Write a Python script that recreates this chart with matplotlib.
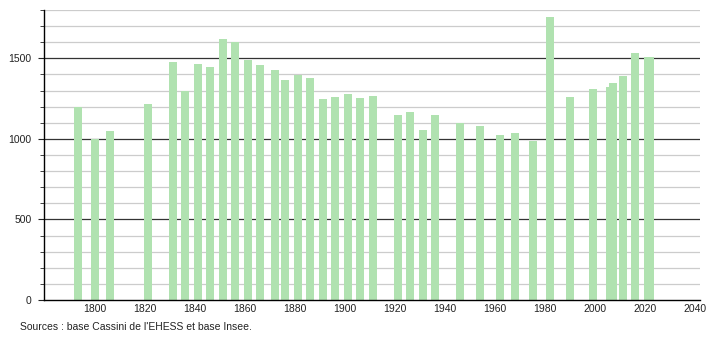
import matplotlib
matplotlib.use("Agg")
import matplotlib.pyplot as plt
from matplotlib.ticker import MultipleLocator

years = [1793, 1800, 1806, 1821, 1831, 1836, 1841, 1846, 1851, 1856, 1861, 1866,
         1872, 1876, 1881, 1886, 1891, 1896, 1901, 1906, 1911, 1921, 1926, 1931,
         1936, 1946, 1954, 1962, 1968, 1975, 1982, 1990, 1999, 2006, 2007, 2011,
         2016, 2021, 2022]
population = [1200, 1000, 1047, 1218, 1477, 1300, 1462, 1446, 1618, 1599, 1487, 1458,
              1425, 1365, 1396, 1375, 1246, 1263, 1276, 1251, 1269, 1151, 1170, 1058,
              1151, 1097, 1083, 1027, 1039, 989, 1755, 1257, 1307, 1323, 1344, 1388,
              1531, 1510, 1510]
xticks = [1800, 1820, 1840, 1860, 1880, 1900, 1920, 1940, 1960, 1980, 2000, 2020, 2040]
yticks = [0, 500, 1000, 1500]
source_text = "Sources : base Cassini de l'EHESS et base Insee."

plt.rcParams['font.family'] = ['Liberation Sans', 'DejaVu Sans']

fig = plt.figure(figsize=(7.1, 3.4), dpi=100)
ax = fig.add_axes([44/710, 40/340, 656/710, 290/340])

ax.set_xlim(1779.6, 2042)
ax.set_ylim(0, 1800)

# grid lines
for v in range(100, 1801, 100):
    if v % 500 == 0:
        ax.axhline(v, color='#333333', lw=0.9, zorder=1)
    else:
        ax.axhline(v, color='#cccccc', lw=0.9, zorder=1)

ax.bar(years, population, width=3.2, color='#b0e2b0', zorder=2, linewidth=0)

for s in ['top', 'right']:
    ax.spines[s].set_visible(False)
ax.spines['left'].set_color('black')
ax.spines['bottom'].set_color('black')
ax.spines['left'].set_linewidth(1.0)
ax.spines['bottom'].set_linewidth(1.0)

ax.set_xticks(xticks)
ax.set_xticklabels([str(t) for t in xticks])
ax.set_yticks(yticks)
ax.set_yticklabels([str(t) for t in yticks])
ax.yaxis.set_minor_locator(MultipleLocator(100))
ax.tick_params(axis='x', length=0, pad=3, labelsize=7.5, colors='#222222')
ax.tick_params(axis='y', which='major', length=4, pad=5, labelsize=7.5, colors='#222222')
ax.tick_params(axis='y', which='minor', length=3, colors='#222222')

fig.text(20/710, 1 - 327/340, source_text, fontsize=7.5, color='#222222',
         ha='left', va='center')

fig.savefig('out.png', dpi=100)
